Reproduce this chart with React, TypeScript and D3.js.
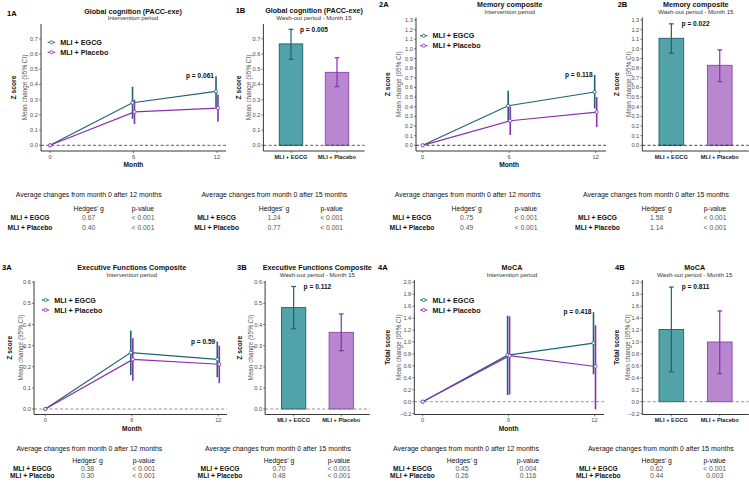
import React from "react";
import * as d3 from "d3";

// ---------------- DATA ----------------
const months = [0, 6, 12];
const groups = ["MLI + EGCG", "MLI + Placebo"];

// 1: Global cognition (PACC-exe)
const gcEgcgMean = [0, 0.28, 0.355];
const gcEgcgLow = [0, 0.175, 0.25];
const gcEgcgHigh = [0, 0.385, 0.455];
const gcPlaceboMean = [0, 0.22, 0.245];
const gcPlaceboLow = [0, 0.14, 0.155];
const gcPlaceboHigh = [0, 0.3, 0.335];
const gcWashMean = [0.667, 0.48];
const gcWashLow = [0.566, 0.386];
const gcWashHigh = [0.763, 0.576];
const gcTicks = [0, 0.1, 0.2, 0.3, 0.4, 0.5, 0.6, 0.7];

// 2: Memory composite
const memEgcgMean = [0, 0.41, 0.553];
const memEgcgLow = [0, 0.255, 0.38];
const memEgcgHigh = [0, 0.566, 0.73];
const memPlaceboMean = [0, 0.255, 0.345];
const memPlaceboLow = [0, 0.107, 0.19];
const memPlaceboHigh = [0, 0.4, 0.5];
const memWashMean = [1.11, 0.83];
const memWashLow = [0.955, 0.66];
const memWashHigh = [1.26, 0.99];
const memTicks = [0, 0.1, 0.2, 0.3, 0.4, 0.5, 0.6, 0.7, 0.8, 0.9, 1.0, 1.1, 1.2, 1.3];

// 3: Executive Functions Composite
const exEgcgMean = [0, 0.267, 0.235];
const exEgcgLow = [0, 0.161, 0.15];
const exEgcgHigh = [0, 0.371, 0.319];
const exPlaceboMean = [0, 0.235, 0.212];
const exPlaceboLow = [0, 0.134, 0.122];
const exPlaceboHigh = [0, 0.335, 0.3];
const exWashMean = [0.48, 0.363];
const exWashLow = [0.38, 0.276];
const exWashHigh = [0.58, 0.45];
const exTicks = [0, 0.1, 0.2, 0.3, 0.4, 0.5, 0.6];

// 4: MoCA
const mocaEgcgMean = [0, 0.78, 0.98];
const mocaEgcgLow = [0, 0.11, 0.46];
const mocaEgcgHigh = [0, 1.44, 1.5];
const mocaPlaceboMean = [0, 0.77, 0.59];
const mocaPlaceboLow = [0, 0.12, -0.13];
const mocaPlaceboHigh = [0, 1.43, 1.28];
const mocaWashMean = [1.21, 1.0];
const mocaWashLow = [0.5, 0.47];
const mocaWashHigh = [1.92, 1.52];
const mocaTicks = [-0.2, 0, 0.2, 0.4, 0.6, 0.8, 1.0, 1.2, 1.4, 1.6, 1.8, 2.0];

// p-values
const pInterv = ["p = 0.061", "p = 0.118", "p = 0.59", "p = 0.418"];
const pWash = ["p = 0.005", "p = 0.022", "p = 0.112", "p = 0.811"];

// tables
const tableTitle12 = "Average changes from month 0 after 12 months";
const tableTitle15 = "Average changes from month 0 after 15 months";
const hedges12 = [["0.67", "0.40"], ["0.75", "0.49"], ["0.38", "0.30"], ["0.45", "0.26"]];
const pval12 = [["< 0.001", "< 0.001"], ["< 0.001", "< 0.001"], ["< 0.001", "< 0.001"], ["0.004", "0.116"]];
const hedges15 = [["1.24", "0.77"], ["1.58", "1.14"], ["0.70", "0.48"], ["0.62", "0.44"]];
const pval15 = [["< 0.001", "< 0.001"], ["< 0.001", "< 0.001"], ["< 0.001", "< 0.001"], ["< 0.001", "0.003"]];

// ---------------- STYLE ----------------
const FONT = "'Liberation Sans', Arial, Helvetica, sans-serif";
const C_EGCG = "#1d6470";
const C_PLAC = "#8a2fb3";
const F_EGCG = "#52a3a9";
const F_PLAC = "#b887cf";
const S_EGCG = "#1d5f67";
const S_PLAC = "#8b43b0";
const TICK = "#4d4d4d";

const fmt1 = d3.format(".1f");

type Layout = {
  x0: number; x1: number;
  m0?: number; m12?: number;
  yTop: number; yBot: number;
  zeroY: number; pxPerUnit: number;
  zx: number; mx: number;
  lx?: number; ly?: number;
  tag: string; tagX: number; tagY: number;
  titleX: number; titleY: number;
  zeroColor: string;
};

function yScaleFor(L: Layout) {
  const lo = -(L.yBot - L.zeroY) / L.pxPerUnit;
  const hi = (L.zeroY - L.yTop) / L.pxPerUnit;
  return d3.scaleLinear().domain([lo, hi]).range([L.yBot, L.yTop]);
}

function YAxis({ L, y, ticks, yLabel }: any) {
  const cy = (L.yTop + L.yBot) / 2;
  return (
    <g fontFamily={FONT}>
      <line x1={L.x0} x2={L.x0} y1={L.yTop} y2={L.yBot} stroke="#222" strokeWidth={0.9} />
      {ticks.map((t: number) => (
        <g key={t}>
          <line x1={L.x0 - 2} x2={L.x0} y1={y(t)} y2={y(t)} stroke="#333" strokeWidth={0.6} />
          <text x={L.x0 - 3} y={y(t)} dy="0.35em" textAnchor="end" fontSize={5.7} fill={TICK}>
            {fmt1(t)}
          </text>
        </g>
      ))}
      <text transform={`translate(${L.zx},${cy}) rotate(-90)`} textAnchor="middle" fontSize={6.7} fontWeight="bold" fill="#111">
        {yLabel}
      </text>
      <text transform={`translate(${L.mx},${cy}) rotate(-90)`} textAnchor="middle" fontSize={6.4} fill="#555">
        Mean change (95% CI)
      </text>
    </g>
  );
}

function Header({ L, title, subtitle }: any) {
  return (
    <g fontFamily={FONT}>
      <text x={L.tagX} y={L.tagY} dy="0.35em" fontSize={7.5} fontWeight="bold" fill="#000">{L.tag}</text>
      <text x={L.titleX} y={L.titleY} dy="0.35em" textAnchor="middle" fontSize={7.2} fontWeight="bold" fill="#111">{title}</text>
      <text x={L.titleX} y={L.titleY + 7.2} dy="0.35em" textAnchor="middle" fontSize={6.1} fill="#333">{subtitle}</text>
    </g>
  );
}

function LinePanel({ L, title, yLabel, ticks, egcg, placebo, p }: any) {
  const y = yScaleFor(L);
  const x = d3.scaleLinear().domain([0, 12]).range([L.m0, L.m12]);
  const dodge = 0.07;
  const series = [
    { d: egcg, c: C_EGCG, off: -dodge },
    { d: placebo, c: C_PLAC, off: dodge },
  ];
  return (
    <g>
      <Header L={L} title={title} subtitle="Intervention period" />
      <line x1={L.x0} x2={L.x1} y1={y(0)} y2={y(0)} stroke={L.zeroColor} strokeWidth={0.8} strokeDasharray="3,2.2" />
      {series.map((s, i) => {
        const pts = months.map((m, j) => [x(m + (j === 0 ? 0 : s.off)), y(s.d.mean[j])] as [number, number]);
        return (
          <g key={i}>
            <path d={d3.line()(pts) || ""} fill="none" stroke={s.c} strokeWidth={1.2} />
            {months.map((m, j) =>
              j === 0 ? null : (
                <line key={j} x1={pts[j][0]} x2={pts[j][0]} y1={y(s.d.low[j])} y2={y(s.d.high[j])} stroke={s.c} strokeWidth={1.6} />
              )
            )}
          </g>
        );
      })}
      {series.map((s, i) =>
        months.map((m, j) => (
          <circle key={`${i}-${j}`} cx={x(m + (j === 0 ? 0 : s.off))} cy={y(s.d.mean[j])} r={1.6} fill="#fff" stroke={s.c} strokeWidth={0.8} />
        ))
      )}
      <YAxis L={L} y={y} ticks={ticks} yLabel={yLabel} />
      <g fontFamily={FONT}>
        <line x1={L.x0} x2={L.x1} y1={L.yBot} y2={L.yBot} stroke="#222" strokeWidth={0.9} />
        {months.map((m) => (
          <g key={m}>
            <line x1={x(m)} x2={x(m)} y1={L.yBot} y2={L.yBot + 2} stroke="#333" strokeWidth={0.6} />
            <text x={x(m)} y={L.yBot + 6} dy="0.35em" textAnchor="middle" fontSize={5.7} fill={TICK}>{m}</text>
          </g>
        ))}
        <text x={x(6)} y={L.yBot + 14} dy="0.35em" textAnchor="middle" fontSize={6.6} fontWeight="bold" fill="#111">Month</text>
      </g>
      <text x={x(12) - 3} y={y(egcg.high[2])} dy="0.35em" textAnchor="end" fontFamily={FONT} fontSize={6.6} fontWeight="bold" fill="#111">{p}</text>
      <g fontFamily={FONT}>
        {groups.map((g, i) => {
          const c = i === 0 ? C_EGCG : C_PLAC;
          const ly = (L.ly as number) + i * 10;
          const lx = L.lx as number;
          return (
            <g key={g}>
              <line x1={lx} x2={lx + 7.5} y1={ly} y2={ly} stroke={c} strokeWidth={1.1} />
              <circle cx={lx + 3.75} cy={ly} r={1.6} fill="#fff" stroke={c} strokeWidth={0.8} />
              <text x={lx + 12.5} y={ly} dy="0.35em" fontSize={7.2} fontWeight="bold" fill="#111">{g}</text>
            </g>
          );
        })}
      </g>
    </g>
  );
}

function BarPanel({ L, title, yLabel, ticks, mean, low, high, p }: any) {
  const y = yScaleFor(L);
  const x = d3.scalePoint<string>().domain(groups).range([L.x0, L.x1]).padding(0.6);
  const step = x.step();
  const bw = step * 0.51;
  const fills = [F_EGCG, F_PLAC];
  const strokes = [S_EGCG, S_PLAC];
  const lines = [C_EGCG, C_PLAC];
  const cap = 2.4;
  return (
    <g>
      <Header L={L} title={title} subtitle="Wash-out period - Month 15" />
      {groups.map((g, i) => (
        <rect key={g} x={(x(g) as number) - bw / 2} width={bw} y={y(Math.max(0, mean[i]))} height={Math.abs(y(0) - y(mean[i]))} fill={fills[i]} stroke={strokes[i]} strokeWidth={0.9} />
      ))}
      <line x1={L.x0} x2={L.x1} y1={y(0)} y2={y(0)} stroke={L.zeroColor} strokeWidth={0.8} strokeDasharray="3,2.2" />
      {groups.map((g, i) => {
        const cx = x(g) as number;
        return (
          <g key={g} stroke={lines[i]} strokeWidth={1.2}>
            <line x1={cx} x2={cx} y1={y(low[i])} y2={y(high[i])} />
            <line x1={cx - cap} x2={cx + cap} y1={y(low[i])} y2={y(low[i])} />
            <line x1={cx - cap} x2={cx + cap} y1={y(high[i])} y2={y(high[i])} />
          </g>
        );
      })}
      <YAxis L={L} y={y} ticks={ticks} yLabel={yLabel} />
      <g fontFamily={FONT}>
        <line x1={L.x0} x2={L.x1} y1={L.yBot} y2={L.yBot} stroke="#222" strokeWidth={0.9} />
        {groups.map((g) => (
          <g key={g}>
            <line x1={x(g)} x2={x(g)} y1={L.yBot} y2={L.yBot + 2} stroke="#333" strokeWidth={0.6} />
            <text x={x(g)} y={L.yBot + 6} dy="0.35em" textAnchor="middle" fontSize={5.7} fontWeight="bold" fill="#222">{g}</text>
          </g>
        ))}
      </g>
      <text x={((x(groups[0]) as number) + (x(groups[1]) as number)) / 2} y={y(d3.max(high) as number)} dy="0.35em" textAnchor="middle" fontFamily={FONT} fontSize={6.6} fontWeight="bold" fill="#111">{p}</text>
    </g>
  );
}

function Table({ T, title, hedges, pv }: any) {
  return (
    <g fontFamily={FONT}>
      <text x={T.titleX} y={T.ys[0]} dy="0.35em" textAnchor="middle" fontSize={6.9} fill="#111">{title}</text>
      <text x={T.hx} y={T.ys[1]} dy="0.35em" textAnchor="middle" fontSize={6.8} fill="#111">Hedges' g</text>
      <text x={T.px} y={T.ys[1]} dy="0.35em" textAnchor="middle" fontSize={6.8} fill="#111">p-value</text>
      {groups.map((g, i) => (
        <g key={g}>
          <text x={T.nx} y={T.ys[2 + i]} dy="0.35em" textAnchor="middle" fontSize={6.7} fontWeight="bold" fill="#111">{g}</text>
          <text x={T.hx} y={T.ys[2 + i]} dy="0.35em" textAnchor="middle" fontSize={6.8} fill="#555">{hedges[i]}</text>
          <text x={T.px} y={T.ys[2 + i]} dy="0.35em" textAnchor="middle" fontSize={6.8} fill="#555">{pv[i]}</text>
        </g>
      ))}
    </g>
  );
}

// ---------------- LAYOUT ----------------
const TOP_ZERO = "#333";
const BOT_ZERO = "#777";
const L1A: Layout = { x0: 41, x1: 226, m0: 50, m12: 217, yTop: 24, yBot: 151, zeroY: 145.3, pxPerUnit: 152, zx: 15.5, mx: 27, lx: 47.7, ly: 42.3, tag: "1A", tagX: 7, tagY: 13.3, titleX: 133, titleY: 11, zeroColor: TOP_ZERO };
const L1B: Layout = { x0: 263.4, x1: 364.6, yTop: 24, yBot: 151, zeroY: 145.3, pxPerUnit: 152, zx: 240.5, mx: 250.5, tag: "1B", tagX: 235.7, tagY: 10.7, titleX: 314, titleY: 10.7, zeroColor: TOP_ZERO };
const L2A: Layout = { x0: 416, x1: 606, m0: 422.7, m12: 595.7, yTop: 17.5, yBot: 151, zeroY: 145.3, pxPerUnit: 96.4, zx: 390, mx: 400.5, lx: 420, ly: 35.7, tag: "2A", tagX: 379, tagY: 4.7, titleX: 509.7, titleY: 4.7, zeroColor: "#111" };
const L2B: Layout = { x0: 642.3, x1: 748.8, yTop: 17.5, yBot: 151, zeroY: 145.3, pxPerUnit: 96.4, zx: 619, mx: 630.5, tag: "2B", tagX: 617.7, tagY: 4.7, titleX: 695.8, titleY: 4.5, zeroColor: "#111" };
const L3A: Layout = { x0: 34, x1: 227, m0: 45.3, m12: 218.3, yTop: 281, yBot: 414.5, zeroY: 409, pxPerUnit: 211.2, zx: 12.3, mx: 23, lx: 41.7, ly: 300, tag: "3A", tagX: 2, tagY: 267.3, titleX: 131.7, titleY: 267.3, zeroColor: BOT_ZERO };
const L3B: Layout = { x0: 265.1, x1: 369.8, yTop: 281, yBot: 414.5, zeroY: 409, pxPerUnit: 211.2, zx: 241.5, mx: 253, tag: "3B", tagX: 237, tagY: 267.3, titleX: 317.3, titleY: 267.3, zeroColor: BOT_ZERO };
const L4A: Layout = { x0: 414.3, x1: 604, m0: 422.7, m12: 594.5, yTop: 280, yBot: 414.5, zeroY: 401.7, pxPerUnit: 59.7, zx: 389.5, mx: 400.5, lx: 420, ly: 300, tag: "4A", tagX: 378, tagY: 267.3, titleX: 512, titleY: 267.3, zeroColor: BOT_ZERO };
const L4B: Layout = { x0: 642.3, x1: 748.8, yTop: 280, yBot: 414.5, zeroY: 401.7, pxPerUnit: 59.7, zx: 619, mx: 630, tag: "4B", tagX: 615, tagY: 267.3, titleX: 694.7, titleY: 267.3, zeroColor: BOT_ZERO };

const TOP_YS = [194.3, 209, 217.7, 227.3];
const BOT_YS = [449, 460.7, 468.3, 475.7];
const T1L = { titleX: 88.7, hx: 88.7, px: 143, nx: 30, ys: TOP_YS };
const T1R = { titleX: 274.3, hx: 274, px: 331.7, nx: 216.6, ys: TOP_YS };
const T2L = { titleX: 467.7, hx: 466.7, px: 526, nx: 412, ys: TOP_YS };
const T2R = { titleX: 656, hx: 656.7, px: 715, nx: 597.5, ys: TOP_YS };
const T3L = { titleX: 89.3, hx: 87.5, px: 143.8, nx: 32.3, ys: BOT_YS };
const T3R = { titleX: 278, hx: 279, px: 339, nx: 220, ys: BOT_YS };
const T4L = { titleX: 466, hx: 462, px: 528, nx: 412.5, ys: BOT_YS };
const T4R = { titleX: 660.8, hx: 656.7, px: 714.7, nx: 598.3, ys: BOT_YS };

const ser = (mean: number[], low: number[], high: number[]) => ({ mean, low, high });

export default function App() {
  return (
    <svg width={749} height={495} viewBox="0 0 749 495" style={{ position: "absolute", left: 0, top: 0, background: "#fff" }}>
      <rect width={749} height={495} fill="#fff" />
      <LinePanel L={L1A} title="Global cognition (PACC-exe)" yLabel="Z score" ticks={gcTicks}
        egcg={ser(gcEgcgMean, gcEgcgLow, gcEgcgHigh)} placebo={ser(gcPlaceboMean, gcPlaceboLow, gcPlaceboHigh)} p={pInterv[0]} />
      <BarPanel L={L1B} title="Global cognition (PACC-exe)" yLabel="Z score" ticks={gcTicks}
        mean={gcWashMean} low={gcWashLow} high={gcWashHigh} p={pWash[0]} />
      <LinePanel L={L2A} title="Memory composite" yLabel="Z score" ticks={memTicks}
        egcg={ser(memEgcgMean, memEgcgLow, memEgcgHigh)} placebo={ser(memPlaceboMean, memPlaceboLow, memPlaceboHigh)} p={pInterv[1]} />
      <BarPanel L={L2B} title="Memory composite" yLabel="Z score" ticks={memTicks}
        mean={memWashMean} low={memWashLow} high={memWashHigh} p={pWash[1]} />
      <LinePanel L={L3A} title="Executive Functions Composite" yLabel="Z score" ticks={exTicks}
        egcg={ser(exEgcgMean, exEgcgLow, exEgcgHigh)} placebo={ser(exPlaceboMean, exPlaceboLow, exPlaceboHigh)} p={pInterv[2]} />
      <BarPanel L={L3B} title="Executive Functions Composite" yLabel="Z score" ticks={exTicks}
        mean={exWashMean} low={exWashLow} high={exWashHigh} p={pWash[2]} />
      <LinePanel L={L4A} title="MoCA" yLabel="Total score" ticks={mocaTicks}
        egcg={ser(mocaEgcgMean, mocaEgcgLow, mocaEgcgHigh)} placebo={ser(mocaPlaceboMean, mocaPlaceboLow, mocaPlaceboHigh)} p={pInterv[3]} />
      <BarPanel L={L4B} title="MoCA" yLabel="Total score" ticks={mocaTicks}
        mean={mocaWashMean} low={mocaWashLow} high={mocaWashHigh} p={pWash[3]} />

      <Table T={T1L} title={tableTitle12} hedges={hedges12[0]} pv={pval12[0]} />
      <Table T={T1R} title={tableTitle15} hedges={hedges15[0]} pv={pval15[0]} />
      <Table T={T2L} title={tableTitle12} hedges={hedges12[1]} pv={pval12[1]} />
      <Table T={T2R} title={tableTitle15} hedges={hedges15[1]} pv={pval15[1]} />
      <Table T={T3L} title={tableTitle12} hedges={hedges12[2]} pv={pval12[2]} />
      <Table T={T3R} title={tableTitle15} hedges={hedges15[2]} pv={pval15[2]} />
      <Table T={T4L} title={tableTitle12} hedges={hedges12[3]} pv={pval12[3]} />
      <Table T={T4R} title={tableTitle15} hedges={hedges15[3]} pv={pval15[3]} />
    </svg>
  );
}
